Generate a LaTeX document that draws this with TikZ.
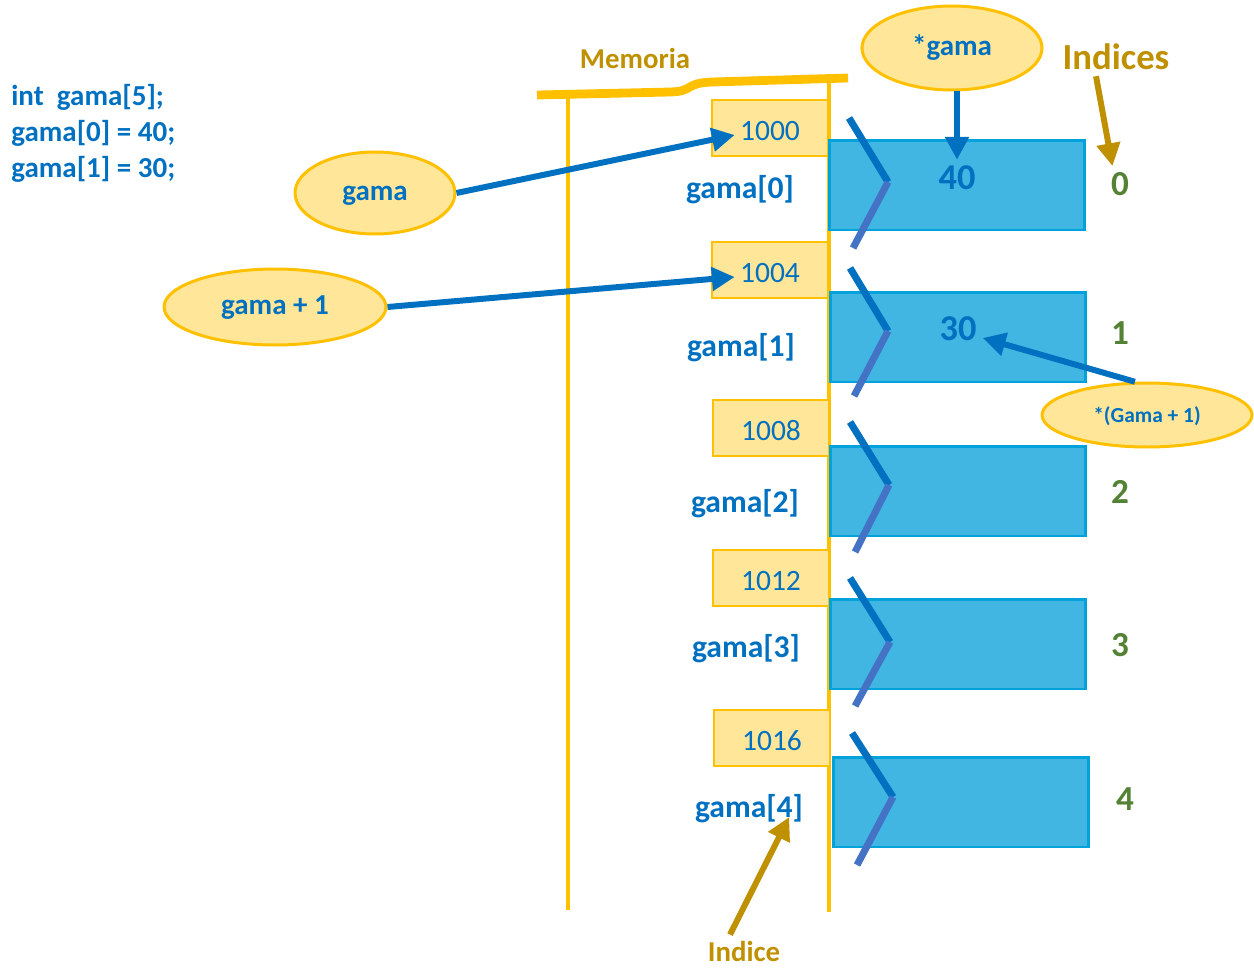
\documentclass[tikz,border=0pt]{standalone}
\usepackage{fontspec}
\setmainfont{Carlito}
\usepackage{xcolor}
\usetikzlibrary{arrows.meta, shapes.geometric, calc, positioning}

\definecolor{azul}{HTML}{0070C0}
\definecolor{azulclaro}{HTML}{4472C4}
\definecolor{celdafondo}{HTML}{41B6E2}
\definecolor{bordecelda}{HTML}{00A2DB}
\definecolor{oro}{HTML}{FFC000}
\definecolor{crema}{HTML}{FFE699}
\definecolor{ocre}{HTML}{BF9000}
\definecolor{verde}{HTML}{548235}

\begin{document}
\begin{tikzpicture}[x=0.02cm, y=-0.02cm]
        % Estilos para los distintos elementos
        \tikzstyle{direccion} = [rectangle, minimum width=2.32cm, minimum height=1.12cm, draw=oro, line width=1.5pt, fill=crema, text=azul, text height=14pt, text depth=0pt, font=\fontsize{16.8}{20}\selectfont]
        \tikzstyle{celda} = [rectangle, minimum width=5.1cm, minimum height=1.8cm, draw=bordecelda, line width=1.7pt, fill=celdafondo]
        \tikzstyle{elipse} = [ellipse, draw=oro, line width=1.7pt, fill=crema, inner sep=0pt, text=azul, text height=1em, text depth=0.15em, font=\bfseries\fontsize{16.5}{20}\selectfont]
        \tikzstyle{etiqueta} = [text=azul, font=\bfseries\fontsize{18}{22}\selectfont]
        \tikzstyle{valor} = [text=azul, font=\bfseries\fontsize{20.7}{24}\selectfont]
        \tikzstyle{numidx} = [text=verde, font=\bfseries\fontsize{20}{24}\selectfont]
        \tikzstyle{textooro} = [text=ocre, font=\bfseries\fontsize{16.4}{20}\selectfont]
        \tikzstyle{marco} = [draw=oro, line width=2.8pt]
        \tikzstyle{flecha} = [draw=azul, line width=3.4pt, -{Triangle[length=13pt, width=13pt]}]
        \tikzstyle{flechaoro} = [draw=ocre, line width=3.4pt, -{Triangle[length=13pt, width=13pt]}]
        \tikzstyle{chevarriba} = [draw=azul, line width=4pt]
        \tikzstyle{chevabajo} = [draw=azulclaro, line width=4pt]

        \useasboundingbox (0,0) rectangle (1254,967);

        % Codigo C
        \node (codigo) [anchor=north west, align=left, inner sep=0pt, text=azul, font=\bfseries\fontsize{16.5}{20.4}\selectfont] at (11,84) {int~~gama[5];\\gama[0] = 40;\\gama[1] = 30;};

        % Marco de la memoria
        \node (memoria) [textooro] at (635,58) {Memoria};
        \draw [marco] (568,92) -- (568,910);
        \draw [marco] (829,80) -- (829,912);
        \draw [marco, line width=5pt] (537,95) -- (670,92) .. controls (694,91.5) and (684,83) .. (712,82) -- (848,78);

        % Direcciones
        \node (a0) [direccion] at (770,128) {1000};
        \node (a1) [direccion] at (770,270) {1004};
        \node (a2) [direccion] at (771,428) {1008};
        \node (a3) [direccion] at (771,578) {1012};
        \node (a4) [direccion] at (772,738) {1016};

        % Nombres de los elementos
        \node (g0) [etiqueta] at (740,190) {gama[0]};
        \node (g1) [etiqueta] at (741,348) {gama[1]};
        \node (g2) [etiqueta] at (745,504) {gama[2]};
        \node (g3) [etiqueta] at (746,649) {gama[3]};
        \node (g4) [etiqueta] at (749,809) {gama[4]};

        % Celdas del arreglo
        \node (c0) [celda] at (957,185) {};
        \node (c1) [celda] at (958,337) {};
        \node (c2) [celda] at (958,491) {};
        \node (c3) [celda] at (958,644) {};
        \node (c4) [celda] at (961,802) {};

        % Quiebres
        \draw [chevarriba] ($(c0.west)+(21,-67)$) -- ($(c0.west)+(60,-3)$);
        \draw [chevabajo] ($(c0.west)+(60,-3)$) -- ($(c0.west)+(25,63)$);
        \draw [chevarriba] ($(c1.west)+(21,-69)$) -- ($(c1.west)+(59,-6)$);
        \draw [chevabajo] ($(c1.west)+(59,-6)$) -- ($(c1.west)+(25,59)$);
        \draw [chevarriba] ($(c2.west)+(21,-69)$) -- ($(c2.west)+(60,-6)$);
        \draw [chevabajo] ($(c2.west)+(60,-6)$) -- ($(c2.west)+(26,61)$);
        \draw [chevarriba] ($(c3.west)+(21,-66)$) -- ($(c3.west)+(61,-2)$);
        \draw [chevabajo] ($(c3.west)+(61,-2)$) -- ($(c3.west)+(26,62)$);
        \draw [chevarriba] ($(c4.west)+(20,-69)$) -- ($(c4.west)+(61,-5)$);
        \draw [chevabajo] ($(c4.west)+(61,-5)$) -- ($(c4.west)+(25,63)$);

        % Valores
        \node (n40) [valor] at (957,178) {40};
        \node (n30) [valor] at (958,329) {30};

        % Indices
        \node (indices) [text=ocre, font=\bfseries\fontsize{20.9}{24}\selectfont] at (1116,57) {Indices};
        \node (i0) [numidx] at (1120,184) {0};
        \node (i1) [numidx] at (1120,333) {1};
        \node (i2) [numidx] at (1120,492) {2};
        \node (i3) [numidx] at (1120,645) {3};
        \node (i4) [numidx] at (1125,799) {4};
        \node (indice) [textooro] at (744,951) {Indice};

        % Punteros
        \node (pg) [elipse, minimum width=3.2cm, minimum height=1.64cm] at (375,193) {gama};
        \node (pg1) [elipse, minimum width=4.44cm, minimum height=1.52cm] at (275,307) {gama + 1};
        \node (sg) [elipse, minimum width=3.6cm, minimum height=1.68cm] at (952,48) {*gama};
        \node (sg1) [elipse, minimum width=4.2cm, minimum height=1.28cm, font=\bfseries\fontsize{12.2}{15}\selectfont] at (1147,415) {*(Gama + 1)};

        % Flechas
        \draw [flecha] (pg.east) -- ($(a0.west)+(24,7)$);
        \draw [flecha] (pg1.east) -- ($(a1.west)+(24,7)$);
        \draw [flecha] (sg.south -| n40.north) -- (n40.north);
        \draw [flecha] (sg1.110) -- (n30.-20);
        \draw [flechaoro] ([xshift=-0.4cm]indices.south) -- ([xshift=-0.15cm]i0.north);
        \draw [flechaoro] ([xshift=-0.28cm]indice.north) -- ($(g4.east)+(-20,8)$);
    \end{tikzpicture}
\end{document}
